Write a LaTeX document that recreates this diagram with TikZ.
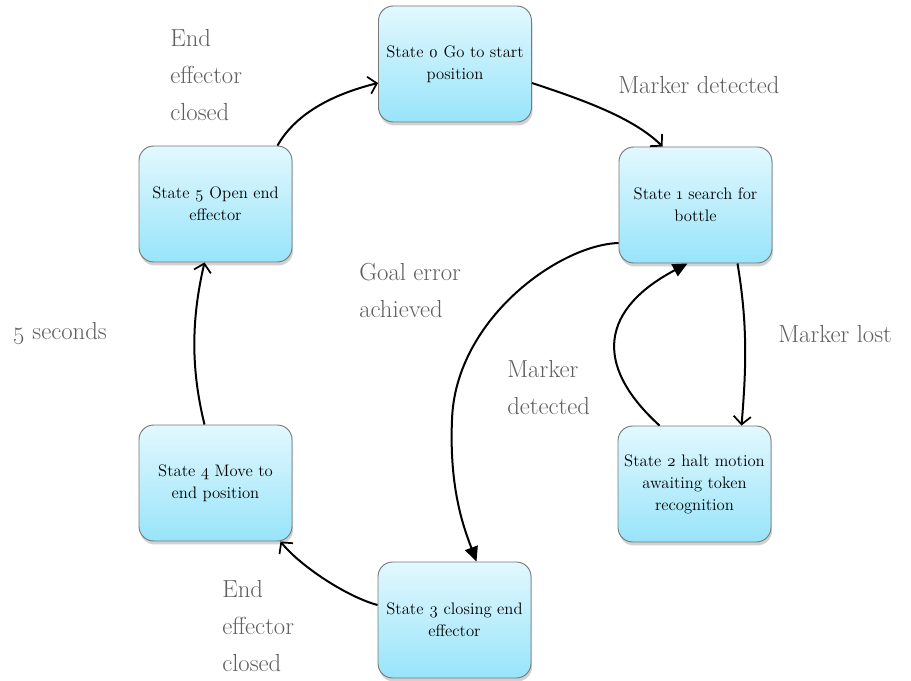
\documentclass[tikz,border=0pt]{standalone}
\usepackage{fontspec}
\setmainfont{Latin Modern Roman}[Numbers=OldStyle]
\usetikzlibrary{arrows.meta,calc,shadows}

\definecolor{boxtop}{RGB}{226,248,254}
\definecolor{boxbot}{RGB}{152,228,250}
\definecolor{boxedge}{RGB}{120,120,120}
\definecolor{labelgrey}{RGB}{95,95,95}

\tikzset{
  statebox/.style={rectangle, rounded corners=11pt, draw=boxedge, line width=0.7pt,
    top color=boxtop, bottom color=boxbot,
    minimum width=114.75pt, minimum height=87pt, inner sep=0pt,
    align=center, font=\fontsize{12.5}{16.5}\selectfont,
    drop shadow={opacity=0.35, shadow xshift=0.8pt, shadow yshift=-2.6pt}},
  tag/.style={text=labelgrey, align=left, anchor=west, inner sep=0pt,
    font=\fontsize{18.5}{27.75}\selectfont},
  trans/.style={line width=1.5pt,
    -{Straight Barb[length=6pt,width=13pt,line width=1.3pt]}},
  transfilled/.style={line width=1.5pt, -{Triangle[length=11pt,width=10pt]}},
}

\begin{document}
\begin{tikzpicture}[x=0.75pt,y=-0.75pt]
  \fill[white] (0,0) rectangle (911,681);
  \useasboundingbox (0,0) rectangle (911,681);

  % states
  \node[statebox] (s0) at (455,64)    {State 0 Go to start\\position};
  \node[statebox] (s1) at (695.5,205) {State 1 search for\\bottle};
  \node[statebox] (s2) at (694.5,484) {State 2 halt motion\\awaiting token\\recognition};
  \node[statebox] (s3) at (454.5,620) {State 3 closing end\\effector};
  \node[statebox] (s4) at (215.5,483) {State 4 Move to\\end position};
  \node[statebox] (s5) at (215.5,204) {State 5 Open end\\effector};

  % transition labels
  \node[tag] (t50) at (170,75)  {End\\effector\\closed};
  \node[tag] (t01) at (618,85)  {Marker detected};
  \node[tag] (t13) at (359,290) {Goal error\\achieved};
  \node[tag] (t45) at (12,334)  {5 seconds};
  \node[tag] (t12) at (778,334) {Marker lost};
  \node[tag] (t21) at (507,388) {Marker\\detected};
  \node[tag] (t34) at (222,626) {End\\effector\\closed};

  % transitions
  \draw[trans] ($(s0.east)+(0,19)$) .. controls +(45,15) and +(-30,-30) .. ($(s1.north)+(-33,0)$);
  \draw[trans] ($(s1.south)+(42,0)$) .. controls +(10,60) and +(5,-60) .. ($(s2.north)+(47,0)$);
  \draw[transfilled] ($(s2.north)+(-35,0)$) .. controls +(-68,-62) and +(-85,45) .. ($(s1.south)+(-8,0)$);
  \draw[transfilled] ($(s1.west)+(0,38)$) .. controls +(-60,2) and +(3,-100) .. (452,420)
        .. controls +(-3,70) and +(-12,-32) .. ($(s3.north)+(22,0)$);
  \draw[trans] ($(s3.west)+(0,-15)$) .. controls +(-30,-8) and +(20,25) .. ($(s4.south)+(65,0)$);
  \draw[trans] ($(s4.north)+(-11,0)$) .. controls +(-13.5,-55) and +(-13.5,58) .. ($(s5.south)+(-11,0)$);
  \draw[trans] ($(s5.north)+(62,0)$) .. controls +(20,-35) and +(-40,10) .. ($(s0.west)+(0,19)$);
\end{tikzpicture}
\end{document}
